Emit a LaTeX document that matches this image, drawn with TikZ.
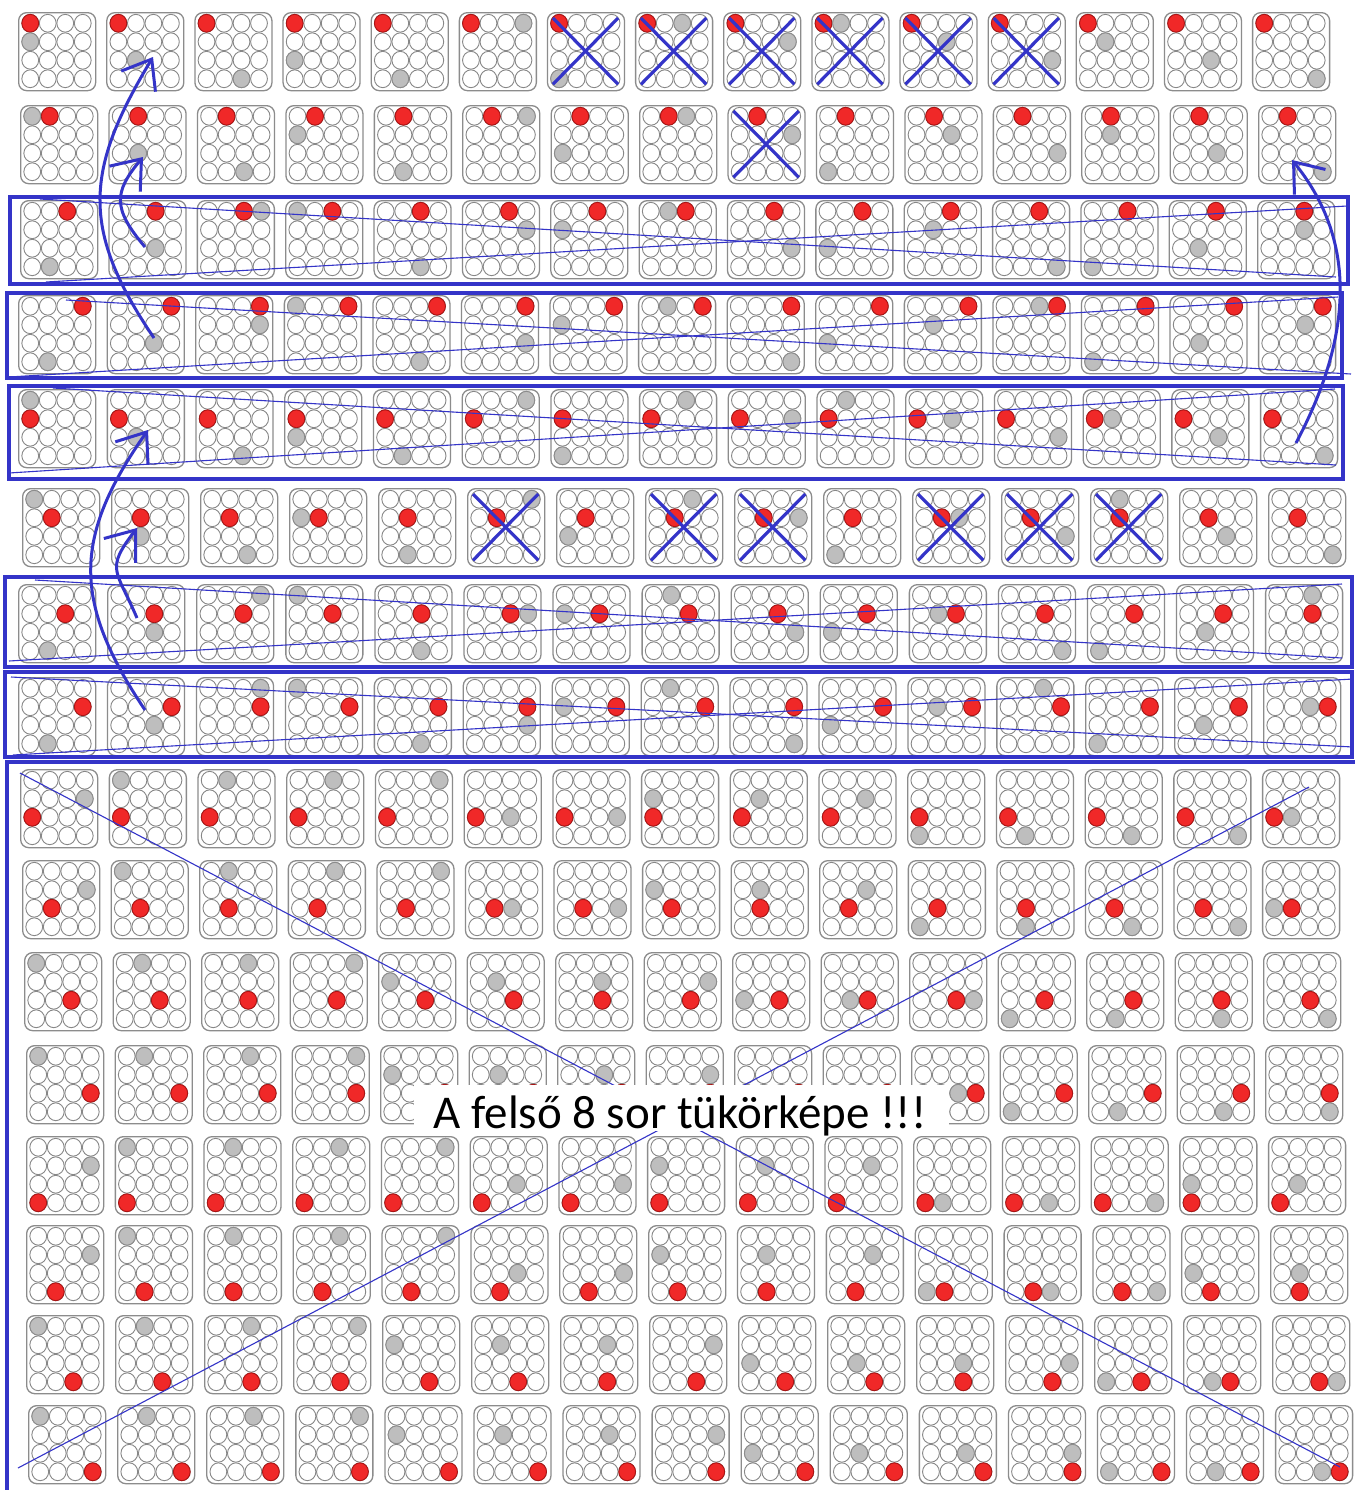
\documentclass[tikz,border=0pt]{standalone}
\usepackage{fontspec}
\newfontfamily\calib{Carlito}
\usetikzlibrary{arrows.meta,calc}
\definecolor{bl}{RGB}{52,52,200}
\definecolor{redf}{RGB}{240,40,40}
\definecolor{redd}{RGB}{170,20,20}
\definecolor{grf}{RGB}{190,190,190}
\definecolor{grd}{RGB}{140,140,140}
\definecolor{cird}{RGB}{135,135,135}
\definecolor{boxd}{RGB}{140,140,140}
\tikzset{
 gbox/.style={draw=boxd, line width=0.65pt, rounded corners=4pt, minimum width=38.5pt, minimum height=39pt, inner sep=0pt, anchor=north west, fill=white},
 circ/.style={draw=cird, line width=0.45pt, fill=white},
 redc/.style={draw=redd, line width=0.45pt, fill=redf},
 grayc/.style={draw=grd, line width=0.45pt, fill=grf},
 frame/.style={draw=bl, line width=1.6pt},
 thinl/.style={draw=bl, line width=0.55pt},
 xline/.style={draw=bl, line width=1.6pt},
 arr/.style={draw=bl, line width=1.5pt, -{Straight Barb[length=13pt,width=20pt]}},
}
\newcommand\drawrow[7]{%
 \foreach \gc/\gr [count=\n] in {#7} {
  \pgfmathsetmacro\bx{#3+(\n-1)*#4}
  \node[gbox] (r#1c\n) at (\bx,#2) {};
  \foreach \ci in {1,2,3,4}{\foreach \ri in {1,2,3,4}{
    \path[circ] ({\bx+38.5+17.5*(\ci-2.5)},{#2+39+18.5*(\ri-2.5)}) ellipse[x radius=4.2pt,y radius=4.45pt];
  }}
  \path[redc] ({\bx+38.5+17.5*(#5-2.5)},{#2+39+18.5*(#6-2.5)}) ellipse[x radius=4.2pt,y radius=4.45pt];
  \path[grayc] ({\bx+38.5+17.5*(\gc-2.5)},{#2+39+18.5*(\gr-2.5)}) ellipse[x radius=4.2pt,y radius=4.45pt];
 }
}
\newcommand\xm[1]{%
 \draw[xline] ([shift={(6,6)}]#1.north west) -- ([shift={(-7,-7)}]#1.south east);
 \draw[xline] ([shift={(6,-7)}]#1.south west) -- ([shift={(-7,6)}]#1.north east);
}
\begin{document}
\begin{tikzpicture}[x=0.5pt,y=-0.5pt]
\useasboundingbox[fill=white] (0,0) rectangle (1359,1490);
\drawrow{1}{12}{18}{88.14}{1}{1}{1/2,2/3,3/4,1/3,2/4,4/1,1/4,3/1,4/2,2/1,3/2,4/3,2/2,3/3,4/4}
\drawrow{2}{105}{20}{88.43}{2}{1}{1/1,2/3,3/4,1/2,2/4,4/1,1/3,3/1,4/2,1/4,3/2,4/3,2/2,3/3,4/4}
\drawrow{3}{200}{20}{88.36}{3}{1}{2/4,3/3,4/1,1/1,3/4,4/2,1/2,2/1,4/3,1/3,2/2,4/4,1/4,2/3,3/2}
\drawrow{4}{295}{18}{88.57}{4}{1}{2/4,3/3,4/2,1/1,3/4,4/3,1/2,2/1,4/4,1/3,2/2,3/1,1/4,2/3,3/2}
\drawrow{5}{389}{18}{88.71}{1}{2}{1/1,2/3,3/4,1/3,2/4,4/1,1/4,3/1,4/2,2/1,3/2,4/3,2/2,3/3,4/4}
\drawrow{6}{488}{22}{89}{2}{2}{1/1,2/3,3/4,1/2,2/4,4/1,1/3,3/1,4/2,1/4,3/2,4/3,2/1,3/3,4/4}
\drawrow{7}{584}{18}{89.07}{3}{2}{2/4,3/3,4/1,1/1,3/4,4/2,1/2,2/1,4/3,1/3,2/2,4/4,1/4,2/3,3/1}
\drawrow{8}{677}{18}{88.93}{4}{2}{2/4,3/3,4/1,1/1,3/4,4/3,1/2,2/1,4/4,1/3,2/2,3/1,1/4,2/3,3/2}
\drawrow{9}{769}{20}{88.71}{1}{3}{4/2,1/1,2/1,3/1,4/1,3/3,4/3,1/2,2/2,3/2,1/4,2/4,3/4,4/4,2/3}
\drawrow{10}{860}{22}{88.57}{2}{3}{4/2,1/1,2/1,3/1,4/1,3/3,4/3,1/2,2/2,3/2,1/4,2/4,3/4,4/4,1/3}
\drawrow{11}{952}{24}{88.5}{3}{3}{1/1,2/1,3/1,4/1,1/2,2/2,3/2,4/2,1/3,2/3,4/3,1/4,2/4,3/4,4/4}
\drawrow{12}{1045}{26}{88.5}{4}{3}{1/1,2/1,3/1,4/1,1/2,2/2,3/2,4/2,1/3,2/3,3/3,1/4,2/4,3/4,4/4}
\drawrow{13}{1136}{26}{88.71}{1}{4}{4/2,1/1,2/1,3/1,4/1,3/3,4/3,1/2,2/2,3/2,2/4,3/4,4/4,1/3,2/3}
\drawrow{14}{1225}{26}{88.86}{2}{4}{4/2,1/1,2/1,3/1,4/1,3/3,4/3,1/2,2/2,3/2,1/4,3/4,4/4,1/3,2/3}
\drawrow{15}{1315}{26}{89}{3}{4}{1/1,2/1,3/1,4/1,1/2,2/2,3/2,4/2,1/3,2/3,3/3,4/3,1/4,2/4,4/4}
\drawrow{16}{1405}{28}{89.07}{4}{4}{1/1,2/1,3/1,4/1,1/2,2/2,3/2,4/2,1/3,2/3,3/3,4/3,1/4,2/4,3/4}
% X marks
\xm{r1c7}\xm{r1c8}\xm{r1c9}\xm{r1c10}\xm{r1c11}\xm{r1c12}
\xm{r2c9}
\xm{r6c6}\xm{r6c8}\xm{r6c9}\xm{r6c11}\xm{r6c12}\xm{r6c13}
% frames
\draw[frame] (10,197) rectangle (1348,284);
\draw[frame] (7,293) rectangle (1342,378);
\draw[frame] (9,386) rectangle (1343,479);
\draw[frame] (5,577) rectangle (1352,667);
\draw[frame] (5,672) rectangle (1352,757);
\draw[bl,line width=2.2pt] (5,762) -- (1355,762);
\draw[bl,line width=2.4pt] (7,762) -- (7,1490);
% thin crossing lines
\draw[thinl] (40,199) -- (1336,277);
\draw[thinl] (46,282) -- (1347,206);
\draw[thinl] (66,300) -- (1351,374);
\draw[thinl] (9,377) -- (1338,297);
\draw[thinl] (53,388) -- (1336,465);
\draw[thinl] (9,473) -- (1335,389);
\draw[thinl] (35,580) -- (1342,658);
\draw[thinl] (9,661) -- (1342,584);
\draw[thinl] (11,677) -- (1353,747);
\draw[thinl] (13,755) -- (1353,679);
\draw[thinl] (20,773) -- (1340,1467);
\draw[thinl] (18,1468) -- (1309,787);
% arrows
\coordinate (a1s) at (154,338); \coordinate (a1e) at (153,57);
\coordinate (a2s) at (145,247); \coordinate (a2e) at (143,157);
\coordinate (a3s) at (145,710); \coordinate (a3e) at (148,430);
\coordinate (a4s) at (137,618); \coordinate (a4e) at (137,528);
\coordinate (a5s) at (1296,443); \coordinate (a5e) at (1292,160);
\draw[arr] (a1s) .. controls (80,229) and (85,170) .. (a1e);
\draw[arr] (a2s) .. controls (112,208) and (114,192) .. (a2e);
\draw[arr] (a3s) .. controls (72,601) and (73,537) .. (a3e);
\draw[arr] (a4s) .. controls (116,569) and (105,570) .. (a4e);
\draw[arr] (a5s) .. controls (1348,345) and (1362,246) .. (a5e);
% label
\fill[white] (414,1085) rectangle (949,1131);
\node[font=\calib\fontsize{23.5pt}{28pt}\selectfont, anchor=base, inner sep=0pt] (lbl) at (680,1128) {A felső 8 sor tükörképe !!!};
\end{tikzpicture}
\end{document}
